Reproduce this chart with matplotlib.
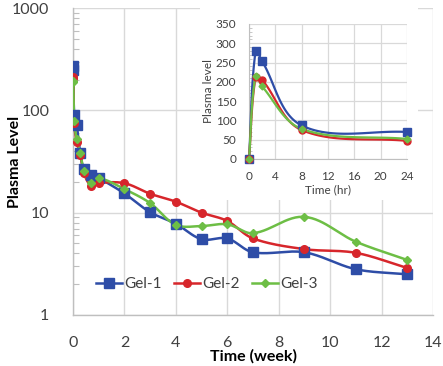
import numpy as np
import matplotlib
matplotlib.use("Agg")
import matplotlib.pyplot as plt
from matplotlib.ticker import FixedLocator, LogLocator, NullFormatter, MultipleLocator

plt.rcParams['font.family'] = ['Lato', 'DejaVu Sans']

# ---------------- data ----------------
# main chart: time in weeks
weeks = [1/168, 2/168, 8/168, 24/168, 2/7, 3/7, 5/7, 1, 2, 3, 4, 5, 6, 7, 9, 11, 13]
gel1_week = [272, 250, 90, 72, 38, 26.7, 23.3, 21.8, 15.4, 10.1, 7.8, 5.5, 5.6, 4.1, 4.1, 2.8, 2.5]
gel2_week = [212, 205, 75, 49, 37, 24.3, 18.3, 19.5, 19.4, 15.3, 12.8, 10.0, 8.3, 5.6, 4.4, 4.05, 2.88]
gel3_week = [192, 188, 78, 52, 38.5, 25.5, 19.5, 21.8, 17.0, 12.4, 7.6, 7.4, 7.7, 6.3, 9.1, 5.2, 3.45]

# inset chart: time in hours
hours = [0, 1, 2, 8, 24]
gel1_hr = [0, 280, 253, 87, 70]
gel2_hr = [0, 212, 205, 75, 47]
gel3_hr = [0, 215, 188, 78, 52]

labels = ['Gel-1', 'Gel-2', 'Gel-3']
colors = ['#2E4DA7', '#D7262B', '#6DBE45']
markers = ['s', 'o', 'D']
msizes = [6.5, 5.5, 4.0]

W, H = 443, 366
fig = plt.figure(figsize=(W/100, H/100), dpi=100)


def smooth(px, py, tension=0.33, n=30):
    """Excel-like smoothed Bezier path through points (in pixel-like coordinates)."""
    P = np.column_stack([px, py]).astype(float)
    m = len(P)
    out = [P[0:1]]
    for i in range(m - 1):
        p0, p1 = P[i], P[i + 1]
        prev = P[i - 1] if i > 0 else P[i]
        nxt = P[i + 2] if i + 2 < m else P[i + 1]
        seg = np.linalg.norm(p1 - p0)
        d0 = p1 - prev
        d1 = nxt - p0
        n0 = np.linalg.norm(d0)
        n1 = np.linalg.norm(d1)
        c1 = p0 + (d0 / n0 * seg * tension if n0 > 0 else 0)
        c2 = p1 - (d1 / n1 * seg * tension if n1 > 0 else 0)
        t = np.linspace(0, 1, n)[1:, None]
        B = ((1 - t) ** 3) * p0 + 3 * ((1 - t) ** 2) * t * c1 + 3 * (1 - t) * t ** 2 * c2 + t ** 3 * p1
        out.append(B)
    return np.vstack(out)


# ---------------- main axes ----------------
ax = fig.add_axes([73/W, 1 - 315/H, (433 - 73)/W, (315 - 8)/H])
ax.set_yscale('log')
ax.set_xlim(0, 14)
ax.set_ylim(1, 1000)
sx = 360/14
sy = 307/3
for y, c, mk, ms, lab in zip([gel1_week, gel2_week, gel3_week], colors, markers, msizes, labels):
    xs = np.array(weeks) * sx
    ys = np.log10(np.array(y)) * sy
    curve = smooth(xs, ys)
    ax.plot(curve[:, 0] / sx, 10 ** (curve[:, 1] / sy), color=c, lw=1.8, zorder=3)
    ax.plot(weeks, y, ls='none', marker=mk, ms=ms, color=c, zorder=4)
    ax.plot([], [], color=c, lw=1.8, marker=mk, ms=ms, label=lab)

ax.xaxis.set_major_locator(MultipleLocator(2))
ax.yaxis.set_major_locator(FixedLocator([1, 10, 100, 1000]))
ax.yaxis.set_major_formatter(matplotlib.ticker.FuncFormatter(lambda v, p: f'{int(v)}'))
ax.yaxis.set_minor_locator(LogLocator(base=10, subs=np.arange(2, 10)))
ax.yaxis.set_minor_formatter(NullFormatter())
ax.grid(True, which='major', color='#D9D9D9', lw=1.0)
ax.set_axisbelow(True)
for s in ['top', 'right']:
    ax.spines[s].set_visible(False)
for s in ['left', 'bottom']:
    ax.spines[s].set_color('#BFBFBF')
    ax.spines[s].set_linewidth(1.0)
ax.tick_params(axis='both', which='major', length=0, labelsize=11.5, colors='#404040')
ax.tick_params(axis='x', pad=15)
ax.tick_params(axis='y', pad=17)
ax.tick_params(axis='y', which='minor', direction='in', length=4, color='#BFBFBF', width=0.8)
ax.set_xlabel('Time (week)', fontsize=11.5, fontweight='bold', color='black')
ax.set_ylabel('Plasma Level', fontsize=11.5, fontweight='bold', color='black')
ax.yaxis.set_label_coords((22 - 73) / 360, 0.5)
ax.xaxis.set_label_coords((253 - 73) / 360, (315 - 349) / 307)

leg = ax.legend(loc='center', bbox_to_anchor=(0.372, 0.10), ncol=3, frameon=False,
                fontsize=11, handlelength=1.7, handletextpad=0.15, columnspacing=0.8)
for t in leg.get_texts():
    t.set_color('#404040')

# ---------------- inset ----------------
bg = fig.add_axes([200/W, 1 - 200/H, (418 - 200)/W, (200 - 8)/H])
bg.set_facecolor('white')
bg.set_xticks([]); bg.set_yticks([])
for s in bg.spines.values():
    s.set_visible(False)

ins = fig.add_axes([249/W, 1 - 159/H, (407 - 249)/W, (159 - 24)/H])
ins.set_xlim(0, 24)
ins.set_ylim(0, 350)
ix = 158/24
iy = 135/350
for y, c, mk, ms in zip([gel1_hr, gel2_hr, gel3_hr], colors, markers, msizes):
    xs = np.array(hours) * ix
    ys = np.array(y) * iy
    curve = smooth(xs, ys)
    ins.plot(curve[:, 0] / ix, curve[:, 1] / iy, color=c, lw=1.6, zorder=3, clip_on=False)
    ins.plot(hours, y, ls='none', marker=mk, ms=ms - 0.5, color=c, zorder=4, clip_on=False)
ins.xaxis.set_major_locator(MultipleLocator(4))
ins.yaxis.set_major_locator(MultipleLocator(50))
ins.yaxis.set_minor_locator(MultipleLocator(10))
ins.grid(True, which='major', color='#D9D9D9', lw=0.9)
ins.set_axisbelow(True)
for s in ['top', 'right']:
    ins.spines[s].set_visible(False)
ins.spines['left'].set_color('#BFBFBF')
ins.spines['bottom'].set_color('#BFBFBF')
ins.tick_params(axis='both', which='major', length=0, labelsize=8.5, colors='#404040')
ins.tick_params(axis='x', pad=9)
ins.tick_params(axis='y', pad=9)
ins.tick_params(axis='y', which='minor', direction='in', length=2.5, color='#BFBFBF', width=0.6)
ins.set_xlabel('Time (hr)', fontsize=8.5, color='#404040', labelpad=1)
ins.set_ylabel('Plasma level', fontsize=8.5, color='#404040', labelpad=1)

fig.savefig('out.png', dpi=100)
